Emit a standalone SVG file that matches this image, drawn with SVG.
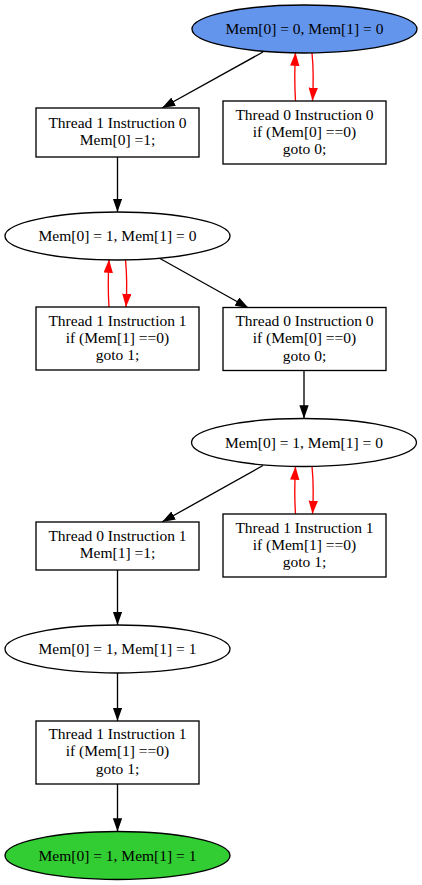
<svg xmlns="http://www.w3.org/2000/svg" width="422" height="885" viewBox="0 0 422 885">
<defs>
<style>
text{font-family:"Liberation Serif","Times New Roman",serif;font-size:15.5px;fill:#000;text-anchor:middle}
.n{fill:#fff;stroke:#000;stroke-width:1.33}
.e{fill:none;stroke:#000;stroke-width:1.33}
.r{fill:none;stroke:#ff0000;stroke-width:1.33}
</style>
<marker id="ab" markerUnits="userSpaceOnUse" markerWidth="14" markerHeight="10" refX="13.3" refY="4.67" orient="auto" viewBox="0 0 14 10">
<path d="M0,0 L13.3,4.67 L0,9.33 Z" fill="#000"/>
</marker>
<marker id="ar" markerUnits="userSpaceOnUse" markerWidth="14" markerHeight="10" refX="13.3" refY="4.67" orient="auto" viewBox="0 0 14 10">
<path d="M0,0 L13.3,4.67 L0,9.33 Z" fill="#ff0000"/>
</marker>
</defs>
<rect width="422" height="885" fill="#fff"/>
<g id="edges">
<path class="e" d="M263,52 L162,108" marker-end="url(#ab)"/>
<path class="r" d="M295.5,101 C294.5,85 294.5,70 295.5,52.5" marker-end="url(#ar)"/>
<path class="r" d="M312,53 C313.5,68 313.5,84 312.5,101" marker-end="url(#ar)"/>
<path class="e" d="M117.5,157 L117.5,212" marker-end="url(#ab)"/>
<path class="r" d="M109,307 C108,292 108,277 109,259.5" marker-end="url(#ar)"/>
<path class="r" d="M125.5,260 C127,275 127,291 126,307" marker-end="url(#ar)"/>
<path class="e" d="M160,258.5 L248.5,308" marker-end="url(#ab)"/>
<path class="e" d="M304,371 L304,418.5" marker-end="url(#ab)"/>
<path class="e" d="M263,465.5 L162,522" marker-end="url(#ab)"/>
<path class="r" d="M295.5,514 C294.5,499 294.5,484 295.5,466.5" marker-end="url(#ar)"/>
<path class="r" d="M312,466.5 C313.5,481 313.5,497 312.5,514" marker-end="url(#ar)"/>
<path class="e" d="M117.5,570 L117.5,625" marker-end="url(#ab)"/>
<path class="e" d="M117.5,673 L117.5,721" marker-end="url(#ab)"/>
<path class="e" d="M117.5,784 L117.5,831.5" marker-end="url(#ab)"/>
</g>
<g id="s00">
<ellipse class="n" cx="304.5" cy="29" rx="112.5" ry="24" style="fill:#6495ed"/>
<text x="304.5" y="34">Mem[0] = 0, Mem[1] = 0</text>
</g>
<g id="t1i0">
<rect class="n" x="36" y="108" width="163" height="49"/>
<text x="117.5" y="128">Thread 1 Instruction 0</text>
<text x="117.5" y="145.3">Mem[0] =1;</text>
</g>
<g id="t0i0a">
<rect class="n" x="223" y="101" width="163" height="63"/>
<text x="304.5" y="119.5">Thread 0 Instruction 0</text>
<text x="304.5" y="136.8">if (Mem[0] ==0)</text>
<text x="304.5" y="154.1">goto 0;</text>
</g>
<g id="s10a">
<ellipse class="n" cx="117.5" cy="236" rx="112.5" ry="24"/>
<text x="117.5" y="241">Mem[0] = 1, Mem[1] = 0</text>
</g>
<g id="t1i1a">
<rect class="n" x="36" y="307" width="163" height="63"/>
<text x="117.5" y="325.5">Thread 1 Instruction 1</text>
<text x="117.5" y="342.8">if (Mem[1] ==0)</text>
<text x="117.5" y="360.1">goto 1;</text>
</g>
<g id="t0i0b">
<rect class="n" x="223" y="307.5" width="163" height="63"/>
<text x="304.5" y="326">Thread 0 Instruction 0</text>
<text x="304.5" y="343.3">if (Mem[0] ==0)</text>
<text x="304.5" y="360.6">goto 0;</text>
</g>
<g id="s10b">
<ellipse class="n" cx="304" cy="442.5" rx="112.5" ry="24"/>
<text x="304" y="447.5">Mem[0] = 1, Mem[1] = 0</text>
</g>
<g id="t0i1">
<rect class="n" x="36" y="522" width="163" height="48"/>
<text x="117.5" y="541">Thread 0 Instruction 1</text>
<text x="117.5" y="558.3">Mem[1] =1;</text>
</g>
<g id="t1i1b">
<rect class="n" x="223" y="514" width="163" height="63"/>
<text x="304.5" y="532.5">Thread 1 Instruction 1</text>
<text x="304.5" y="549.8">if (Mem[1] ==0)</text>
<text x="304.5" y="567.1">goto 1;</text>
</g>
<g id="s11a">
<ellipse class="n" cx="117.5" cy="649" rx="112.5" ry="24"/>
<text x="117.5" y="654">Mem[0] = 1, Mem[1] = 1</text>
</g>
<g id="t1i1c">
<rect class="n" x="36" y="721" width="163" height="63"/>
<text x="117.5" y="739">Thread 1 Instruction 1</text>
<text x="117.5" y="756.3">if (Mem[1] ==0)</text>
<text x="117.5" y="773.6">goto 1;</text>
</g>
<g id="s11b">
<ellipse class="n" cx="117.5" cy="855.5" rx="112.5" ry="24" style="fill:#32cd32"/>
<text x="117.5" y="860.5">Mem[0] = 1, Mem[1] = 1</text>
</g>
</svg>
